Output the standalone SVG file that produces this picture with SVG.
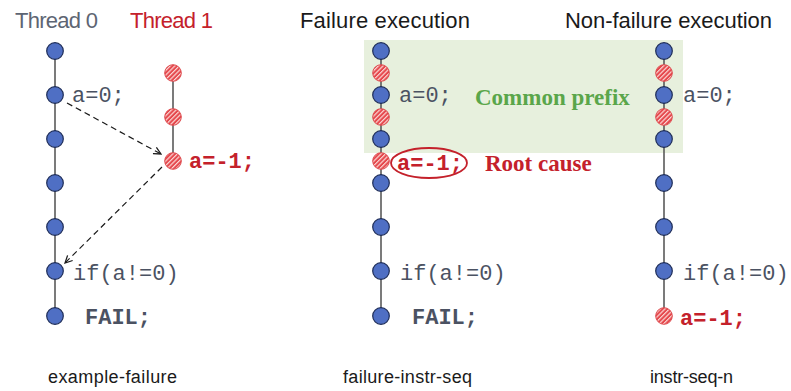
<svg xmlns="http://www.w3.org/2000/svg" width="791" height="391" viewBox="0 0 791 391">
<defs>
<pattern id="hatch" patternUnits="userSpaceOnUse" width="3.2" height="3.2" patternTransform="rotate(45)">
<rect width="3.2" height="3.2" fill="#e5474c"/>
<rect width="1.2" height="3.2" fill="#fbd6d4"/>
</pattern>
<marker id="arr" viewBox="0 0 10 10" refX="9" refY="5" markerWidth="9" markerHeight="9" orient="auto" markerUnits="userSpaceOnUse">
<path d="M1,1 L9,5 L1,9" fill="none" stroke="#1a1a1a" stroke-width="1.4"/>
</marker>
</defs>
<style>
.title{font-family:"Liberation Sans","DejaVu Sans",sans-serif;font-size:22px}
.cap{font-family:"Liberation Sans","DejaVu Sans",sans-serif;font-size:18px;fill:#1a1a1a}
.code{font-family:"Liberation Mono","DejaVu Sans Mono",monospace;font-size:22px;fill:#4b5262}
.codeb{font-family:"Liberation Mono","DejaVu Sans Mono",monospace;font-size:22px;fill:#4b5262;font-weight:bold}
.red{font-family:"Liberation Mono","DejaVu Sans Mono",monospace;font-size:22px;fill:#c4212b;font-weight:bold}
.serifb{font-family:"Liberation Serif","DejaVu Serif",serif;font-size:23px;font-weight:bold}
.vl{stroke:#5a5a5a;stroke-width:1.6}
.b{fill:#4f6fc4;stroke:#1e2d58;stroke-width:1.2}
.r{fill:url(#hatch);stroke:#de4a4e;stroke-width:1}
.dash{stroke:#1a1a1a;stroke-width:1.2;stroke-dasharray:6 4;fill:none}
</style>
<rect width="791" height="391" fill="#ffffff"/>

<g id="prefix-box">
<rect x="364" y="40" width="319" height="113" fill="#e7f0dd"/>
<text class="serifb" x="475" y="105" fill="#5aa64a">Common prefix</text>
</g>

<g id="titles">
<text class="title" x="15" y="28" fill="#5d6573" textLength="83">Thread 0</text>
<text class="title" x="130" y="28" fill="#c4212b" textLength="83">Thread 1</text>
<text class="title" x="300" y="28" fill="#1a1a1a" textLength="170">Failure execution</text>
<text class="title" x="565" y="28" fill="#1a1a1a" textLength="207">Non-failure execution</text>
</g>

<g id="connectors">
<line class="vl" x1="55" y1="51" x2="55" y2="316"/>
<line class="vl" x1="173" y1="73" x2="173" y2="161"/>
<line class="vl" x1="381" y1="51" x2="381" y2="316"/>
<line class="vl" x1="664" y1="51" x2="664" y2="316"/>
<line class="dash" x1="67" y1="103" x2="161" y2="154" marker-end="url(#arr)"/>
<line class="dash" x1="162" y1="167" x2="65" y2="263" marker-end="url(#arr)"/>
</g>

<g id="thread0">
<circle class="b" cx="55" cy="51" r="8.3"/>
<circle class="b" cx="55" cy="95" r="8.3"/>
<circle class="b" cx="55" cy="139" r="8.3"/>
<circle class="b" cx="55" cy="183" r="8.3"/>
<circle class="b" cx="55" cy="227" r="8.3"/>
<circle class="b" cx="55" cy="271" r="8.3"/>
<circle class="b" cx="55" cy="316" r="8.3"/>
<text class="code" x="72" y="102">a=0;</text>
<text class="code" x="73" y="280">if(a!=0)</text>
<text class="codeb" x="85" y="324">FAIL;</text>
</g>

<g id="thread1">
<circle class="r" cx="173" cy="73" r="8.3"/>
<circle class="r" cx="173" cy="117" r="8.3"/>
<circle class="r" cx="173" cy="161" r="8.3"/>
<text class="red" x="189" y="168">a=-1;</text>
</g>

<g id="failure-exec">
<circle class="b" cx="381" cy="51" r="8.3"/>
<circle class="r" cx="381" cy="73" r="8.3"/>
<circle class="b" cx="381" cy="95" r="8.3"/>
<circle class="r" cx="381" cy="117" r="8.3"/>
<circle class="b" cx="381" cy="139" r="8.3"/>
<circle class="r" cx="381" cy="161" r="8.3"/>
<circle class="b" cx="381" cy="183" r="8.3"/>
<circle class="b" cx="381" cy="227" r="8.3"/>
<circle class="b" cx="381" cy="271" r="8.3"/>
<circle class="b" cx="381" cy="316" r="8.3"/>
<text class="code" x="399" y="102">a=0;</text>
<ellipse cx="429" cy="163" rx="38" ry="15" fill="none" stroke="#c4212b" stroke-width="1.8"/>
<text class="red" x="397" y="170">a=-1;</text>
<text class="serifb" x="485" y="171" fill="#c4212b">Root cause</text>
<text class="code" x="400" y="280">if(a!=0)</text>
<text class="codeb" x="412" y="324">FAIL;</text>
</g>

<g id="nonfailure-exec">
<circle class="b" cx="664" cy="51" r="8.3"/>
<circle class="r" cx="664" cy="73" r="8.3"/>
<circle class="b" cx="664" cy="95" r="8.3"/>
<circle class="r" cx="664" cy="117" r="8.3"/>
<circle class="b" cx="664" cy="139" r="8.3"/>
<circle class="b" cx="664" cy="183" r="8.3"/>
<circle class="b" cx="664" cy="227" r="8.3"/>
<circle class="b" cx="664" cy="271" r="8.3"/>
<circle class="r" cx="664" cy="316" r="8.3"/>
<text class="code" x="683" y="102">a=0;</text>
<text class="code" x="683" y="280">if(a!=0)</text>
<text class="red" x="680" y="325">a=-1;</text>
</g>

<g id="captions">
<text class="cap" x="48" y="383" textLength="129">example-failure</text>
<text class="cap" x="343" y="383" textLength="129">failure-instr-seq</text>
<text class="cap" x="650" y="383" textLength="83">instr-seq-n</text>
</g>
</svg>
